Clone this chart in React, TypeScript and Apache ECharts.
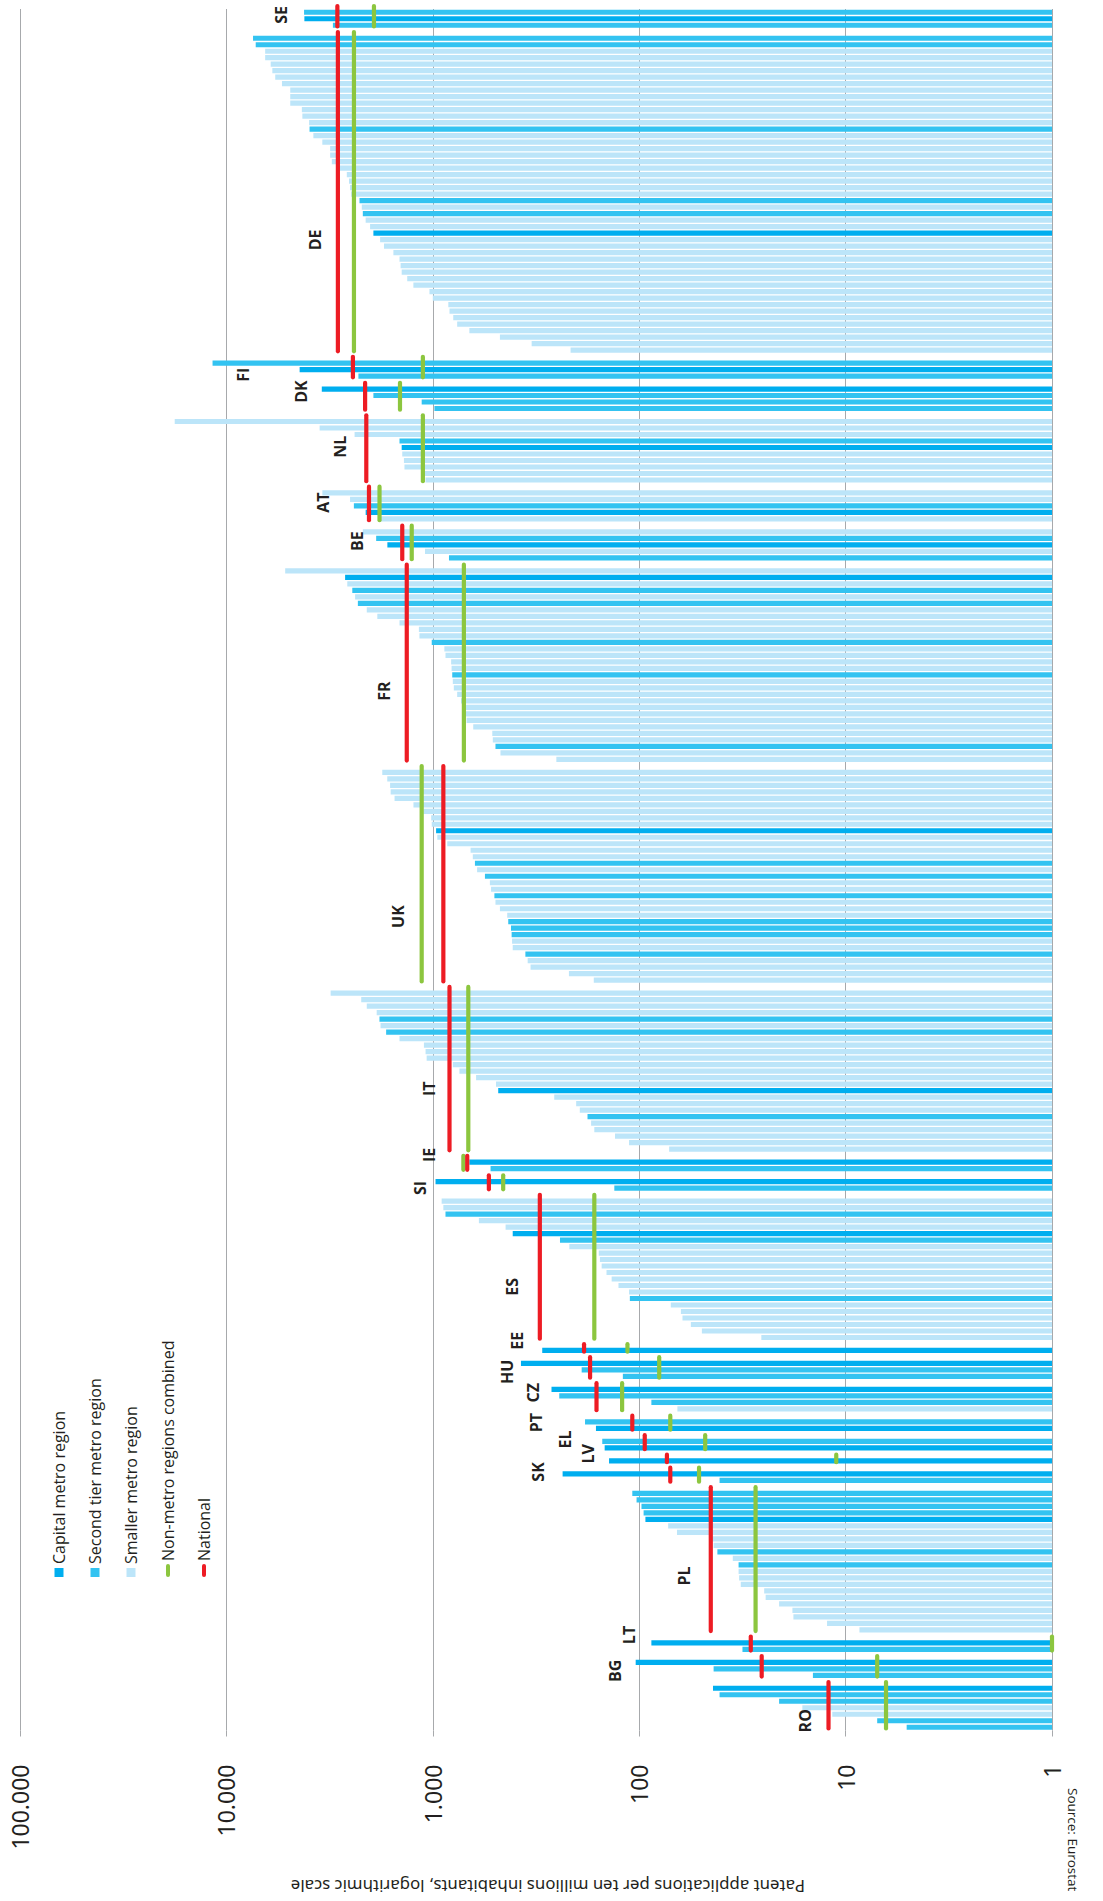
import React, { useEffect, useRef } from "react";
import * as echarts from "echarts";

// ---------- DATA ----------
const COUNTRIES = ["SE","DE","FI","DK","NL","AT","BE","FR","UK","IT","IE","SI","ES","EE","HU","CZ","PT","EL","LV","SK","PL","LT","BG","RO"];

// region values, top to bottom within each country (patent applications per 10 million inhabitants)
const SE = [4205, 4190, 3048];
const DE = [7430, 7210, 6490, 6490, 6100, 5990, 5800, 5380, 4905, 4905, 4905, 4310, 4285, 3975, 3955, 3790, 3430, 3143, 3143, 3085, 2845, 2610, 2546, 2517, 2485, 2265, 2208, 2183, 2115, 2013, 1940, 1800, 1724, 1552, 1450, 1432, 1415, 1330, 1242, 1038, 1000, 841, 830, 796, 762, 665, 473, 332, 215];
const FI = [11670, 4418, 2293];
const DK = [3450, 1940, 1132, 982];
const NL = [17800, 3535, 2393, 1450, 1415, 1406, 1380, 1372, 1091, 1085];
const AT = [3428, 2517, 2412, 2115, 1824];
const BE = [2183, 1881, 1660, 1091, 835];
const FR = [5190, 2660, 2596, 2455, 2379, 2307, 2089, 1857, 1450, 1168, 1161, 1012, 879, 868, 815, 811, 805, 800, 791, 762, 730, 711, 698, 686, 637, 515, 512, 497, 470, 252];
const UK = [1757, 1662, 1610, 1600, 1532, 1241, 1111, 1018, 1012, 964, 951, 851, 656, 640, 625, 610, 559, 529, 522, 503, 497, 473, 436, 431, 418, 415, 413, 410, 356, 347, 336, 219, 166];
const IT = [3126, 2222, 2089, 1870, 1813, 1791, 1683, 1450, 1104, 1084, 1071, 800, 743, 617, 494, 482, 258, 202, 194, 178, 171, 165, 131, 112, 71.6];
const IE = [665, 525];
const SI = [970, 132];
const ES = [906, 889, 868, 598, 444, 410, 242, 218, 157, 155, 152, 144, 136, 126, 112, 111, 70.3, 62.8, 61.7, 56.2, 49.7, 25.6];
const EE = [295];
const HU = [374, 190, 120];
const CZ = [266, 244, 87.3, 65.3];
const PT = [183, 162];
const EL = [151, 147];
const LV = [140];
const SK = [235, 40.8];
const PL = [108, 103, 97.5, 95.2, 93.3, 72.4, 65.6, 45.8, 43.6, 41.8, 35.2, 33.0, 33.0, 32.8, 32.2, 24.8, 24.4, 21.0, 18.1, 17.9, 12.3, 8.57];
const LT = [87.3, 31.6];
const BG = [104, 43.6, 14.4];
const RO = [43.9, 40.8, 21.0, 16.2, 11.6, 7.03, 5.06];

// region type codes: C = capital metro, S = second tier metro, M = smaller metro
const TYPES_SE = "SCS";
const TYPES_DE = "SS" + "M".repeat(12) + "S" + "M".repeat(10) + "SMSMMC" + "M".repeat(18);
const TYPES_FI = "SCS";
const TYPES_DK = "CSSS";
const TYPES_NL = "MMMSCMMMMM";
const TYPES_AT = "MMSCM";
const TYPES_BE = "MSCMS";
const TYPES_FR = "MCMSMS" + "MMMMM" + "S" + "MMMM" + "S" + "M".repeat(10) + "SMM";
const TYPES_UK = "M".repeat(9) + "C" + "MMMM" + "SMS" + "MMS" + "MMM" + "SSS" + "MM" + "S" + "MMMM";
const TYPES_IT = "MMMM" + "S" + "M" + "S" + "M".repeat(8) + "C" + "MMM" + "S" + "MMMMM";
const TYPES_IE = "CS";
const TYPES_SI = "CS";
const TYPES_ES = "MMSMMCS" + "M".repeat(8) + "S" + "M".repeat(6);
const TYPES_EE = "C";
const TYPES_HU = "CSS";
const TYPES_CZ = "CSSM";
const TYPES_PT = "SC";
const TYPES_EL = "SC";
const TYPES_LV = "C";
const TYPES_SK = "CS";
const TYPES_PL = "SSSSC" + "MMMM" + "S" + "M" + "S" + "M".repeat(10);
const TYPES_LT = "CS";
const TYPES_BG = "CSS";
const TYPES_RO = "CSSMMSS";

const REGION_VALUES = [SE, DE, FI, DK, NL, AT, BE, FR, UK, IT, IE, SI, ES, EE, HU, CZ, PT, EL, LV, SK, PL, LT, BG, RO];
const REGION_TYPES = [TYPES_SE, TYPES_DE, TYPES_FI, TYPES_DK, TYPES_NL, TYPES_AT, TYPES_BE, TYPES_FR, TYPES_UK, TYPES_IT, TYPES_IE, TYPES_SI, TYPES_ES, TYPES_EE, TYPES_HU, TYPES_CZ, TYPES_PT, TYPES_EL, TYPES_LV, TYPES_SK, TYPES_PL, TYPES_LT, TYPES_BG, TYPES_RO];

const NATIONAL = [2900, 2883, 2438, 2128, 2100, 2038, 1406, 1337, 889, 830, 681, 535, 303, 185, 173, 161, 108, 94, 73.4, 70.7, 45.0, 28.8, 25.5, 12.1];
const NON_METRO = [1928, 2410, 1117, 1442, 1117, 1812, 1265, 707, 1132, 673, 711, 456, 165, 114, 80, 121, 70.7, 47.9, 11.1, 51.3, 27.3, 1.0, 7.03, 6.37];

const TICK_VALUES = [1, 10, 100, 1000, 10000, 100000];

const LEGEND_LABELS = ["Capital metro region", "Second tier metro region", "Smaller metro region", "Non-metro regions combined", "National"];
const AXIS_TITLE = "Patent applications per ten millions inhabitants, logarithmic scale";
const SOURCE = "Source: Eurostat";

// ---------- LAYOUT (country label anchors in data space: value, slot) ----------
const LABEL_VALUE = [5410, 3710, 8300, 4330, 2805, 3390, 2333, 1718, 1472, 1042, 1042, 1151, 413, 392, 439, 328, 316, 229, 177, 309, 60.8, 112, 131, 15.8];
const LABEL_SLOT = [0.42, 35.05, 55.8, 58.4, 66.9, 75.5, 81.4, 104.5, 139.2, 165.7, 175.9, 181.0, 196.2, 204.5, 209.3, 212.5, 217.1, 219.7, 221.9, 224.7, 240.7, 249.8, 255.3, 263.0];

// ---------- STYLE ----------
const COLORS: Record<string, string> = { C: "#00aeef", S: "#33c3f1", M: "#bce5f9" };
const RED = "#ed1c24";
const GREEN = "#8cc63f";
const TEXT = "#231f20";
const GRID = "#a7a9ac";

export default function App() {
  const ref = useRef<HTMLDivElement>(null);

  useEffect(() => {
    document.body.style.margin = "0";
    if (!ref.current) return;
    const chart = echarts.init(ref.current, undefined, { renderer: "svg" });

    const cats: string[] = [];
    const bars: any[] = [];
    const lineRed: any[] = [];
    const lineGreen: any[] = [];
    COUNTRIES.forEach((c, gi) => {
      if (gi > 0) {
        cats.push("gap-" + gi);
        bars.push(null);
      }
      const first = cats.length;
      REGION_VALUES[gi].forEach((v, i) => {
        cats.push(c + "-" + i);
        bars.push({ value: v, itemStyle: { color: COLORS[REGION_TYPES[gi][i]] } });
      });
      const last = cats.length - 1;
      lineRed.push([NATIONAL[gi], first, last]);
      lineGreen.push([NON_METRO[gi], first, last]);
    });

    const labelData = COUNTRIES.map((c, i) => [LABEL_VALUE[i], Math.floor(LABEL_SLOT[i]), LABEL_SLOT[i] - Math.floor(LABEL_SLOT[i])]);

    const lineRender = (color: string) => (params: any, api: any) => {
      const v = api.value(0);
      const a = api.value(1);
      const b = api.value(2);
      const p1 = api.coord([v, a]);
      const p2 = api.coord([v, b]);
      const h = api.coord([v, a + 1])[1] - p1[1];
      return {
        type: "line",
        shape: { x1: p1[0], y1: p1[1] - h / 2 - 3, x2: p2[0], y2: p2[1] + h / 2 - 2 },
        style: { stroke: color, lineWidth: 4.2, lineCap: "round" },
      };
    };

    const fmt = (v: number) => String(Math.round(v)).replace(/\B(?=(\d{3})+(?!\d))/g, ".");

    const legendX = [59, 95, 131, 168, 204];
    const legendBottom = 1577;
    const legendGraphics: any[] = [];
    LEGEND_LABELS.forEach((t, i) => {
      const x = legendX[i];
      if (i < 3) {
        legendGraphics.push({ type: "rect", shape: { x: x - 4.5, y: legendBottom - 9, width: 9, height: 9 }, style: { fill: COLORS["CSM"[i]] } });
      } else {
        legendGraphics.push({ type: "rect", shape: { x: x - 2, y: legendBottom - 13, width: 4, height: 13, r: 2 }, style: { fill: i === 3 ? GREEN : RED } });
      }
      legendGraphics.push({
        type: "text",
        x: x,
        y: legendBottom - (i < 3 ? 13 : 16),
        rotation: Math.PI / 2,
        style: { text: t, fill: TEXT, fontSize: 16, fontFamily: "Open Sans", align: "left", verticalAlign: "middle" },
      });
    });

    chart.setOption({
      animation: false,
      grid: { left: 20, right: 51, top: 9, bottom: 170.5, containLabel: false },
      xAxis: {
        type: "log",
        logBase: 10,
        min: 1,
        max: 100000,
        inverse: true,
        position: "bottom",
        axisLine: { show: false },
        axisTick: { show: true, length: 6, lineStyle: { color: GRID, width: 1 } },
        splitLine: { show: true, lineStyle: { color: GRID, width: 1 } },
        axisLabel: {
          rotate: 90,
          margin: 34,
          fontSize: 23,
          color: TEXT,
          fontFamily: "Noto Sans",
          customValues: TICK_VALUES,
          formatter: (v: number) => fmt(v),
        },
      },
      yAxis: {
        type: "category",
        inverse: true,
        data: cats,
        axisLine: { show: false },
        axisTick: { show: false },
        axisLabel: { show: false },
        splitLine: { show: false },
      },
      series: [
        {
          type: "bar",
          data: bars,
          barCategoryGap: "20%",
          z: 2,
        },
        {
          type: "custom",
          data: lineGreen,
          encode: { x: 0, y: 1 },
          renderItem: lineRender(GREEN),
          z: 3,
        },
        {
          type: "custom",
          data: lineRed,
          encode: { x: 0, y: 1 },
          renderItem: lineRender(RED),
          z: 4,
        },
        {
          type: "custom",
          data: labelData,
          encode: { x: 0, y: 1 },
          z: 5,
          renderItem: (params: any, api: any) => {
            const v = api.value(0);
            const s = api.value(1);
            const f = api.value(2);
            const p = api.coord([v, s]);
            const q = api.coord([v, s + 1]);
            return {
              type: "text",
              x: p[0],
              y: p[1] + (q[1] - p[1]) * f,
              rotation: Math.PI / 2,
              style: {
                text: COUNTRIES[params.dataIndex],
                fill: TEXT,
                fontSize: 16,
                fontWeight: "bold",
                fontFamily: "Open Sans",
                align: "center",
                verticalAlign: "middle",
              },
            };
          },
        },
      ],
      graphic: [
        ...legendGraphics,
        {
          type: "text",
          x: 548,
          y: 1886,
          rotation: Math.PI,
          style: { text: AXIS_TITLE, fill: TEXT, fontSize: 16.8, fontFamily: "Noto Sans", align: "center", verticalAlign: "middle" },
        },
        {
          type: "text",
          x: 1073,
          y: 1788,
          rotation: -Math.PI / 2,
          style: { text: SOURCE, fill: TEXT, fontSize: 13.5, fontFamily: "Open Sans", align: "left", verticalAlign: "middle" },
        },
      ],
    });

    return () => chart.dispose();
  }, []);

  return <div ref={ref} style={{ width: 1103, height: 1901 }} />;
}
